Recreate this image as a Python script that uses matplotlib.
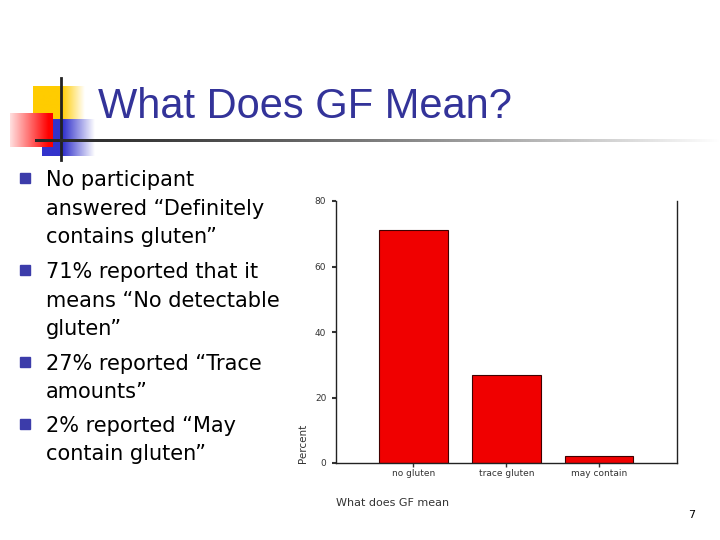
import numpy as np
import matplotlib.pyplot as plt
from matplotlib.patches import Rectangle

# chart data
categories = ["no gluten", "trace gluten", "may contain"]
percent = [71, 27, 2]
y_ticks = [0, 20, 40, 60, 80]

title = "What Does GF Mean?"
bullets = [
    ["No participant", "answered \u201cDefinitely", "contains gluten\u201d"],
    ["71% reported that it", "means \u201cNo detectable", "gluten\u201d"],
    ["27% reported \u201cTrace", "amounts\u201d"],
    ["2% reported \u201cMay", "contain gluten\u201d"],
]
bullet_baselines = [[186, 215, 243], [278, 307, 335], [370, 398], [432, 460]]

fig = plt.figure(figsize=(7.2, 5.4), dpi=100)

# slide layer in pixel coordinates
bg = fig.add_axes([0, 0, 1, 1])
bg.axis("off")


def grad_box(ax, x0, x1, y0, y1, rgb, fade_from, direction, low=0.0):
    # horizontal gradient: solid color, fading to white
    n = 200
    xs = np.linspace(0, 1, n)
    if direction == "right":
        a = np.clip((xs - fade_from) / (1 - fade_from), 0, 1)
    else:
        a = np.clip((fade_from - xs) / fade_from, 0, 1)
    a = a * (1 - low)
    img = np.ones((2, n, 3))
    for i in range(3):
        img[:, :, i] = rgb[i] + (1 - rgb[i]) * a
    ax.imshow(img, extent=[x0, x1, y1, y0], aspect="auto", zorder=1,
              interpolation="bilinear")


grad_box(bg, 33, 85, 86, 119, (1.0, 0.8, 0.0), 0.55, "right")
grad_box(bg, 42, 95, 119, 156, (0.2, 0.2, 0.8), 0.4, "right")
grad_box(bg, 10, 53, 113, 147, (1.0, 0.0, 0.0), 0.9, "left", low=0.12)
bg.plot([61, 61], [78, 160], color="#222222", lw=2, zorder=3)

# horizontal rule fading out
n = 400
xs = np.linspace(0, 1, n)
rule = np.ones((1, n, 3)) * (0.15 + 0.85 * xs ** 1.3)[None, :, None]
bg.imshow(rule, extent=[35, 720, 142.5, 139.5], aspect="auto", zorder=3)
bg.set_xlim(0, 720)
bg.set_ylim(540, 0)

bg.text(98, 118, title, fontsize=30, color="#333399", va="baseline",
        ha="left", family="Liberation Sans")

for lines, bases in zip(bullets, bullet_baselines):
    bg.add_patch(Rectangle((20, bases[0] - 13), 10, 10, color="#3c3caa",
                           zorder=2))
    for line, yb in zip(lines, bases):
        bg.text(46, yb, line, fontsize=15, color="black", va="baseline",
                ha="left", family="DejaVu Sans")

bg.text(692, 515, "7", fontsize=8, color="black", ha="center", va="center")

# bar chart
ax = fig.add_axes([336 / 720, 1 - 463 / 540, 341 / 720, 262 / 540])
x = np.arange(len(categories))
ax.bar(x, percent, width=0.74, color="#f00000", edgecolor="#400000",
       linewidth=0.8, zorder=2)
ax.set_xlim(-0.835, 2.84)
ax.set_ylim(0, 80)
ax.set_yticks(y_ticks)
ax.set_xticks(x)
ax.set_xticklabels(categories)
ax.spines["top"].set_visible(False)
for s in ["left", "right", "bottom"]:
    ax.spines[s].set_linewidth(1)
    ax.spines[s].set_color("#222222")
ax.tick_params(axis="y", length=3, width=1.5, labelsize=6.5, pad=4,
               colors="#333333")
ax.tick_params(axis="x", length=3, width=1, labelsize=6.5, pad=1,
               colors="#333333")
ax.set_ylabel("Percent", fontsize=7.5, color="#333333", loc="bottom",
              labelpad=5)
ax.set_xlabel("What does GF mean", fontsize=8, color="#333333", loc="left",
              labelpad=15)

fig.savefig("out.png", dpi=100)
